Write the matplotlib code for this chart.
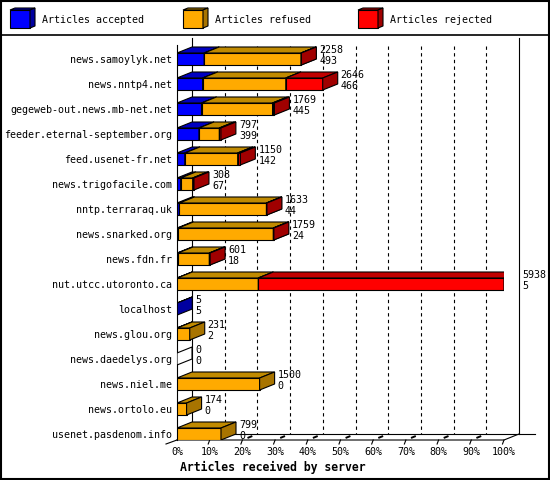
import matplotlib
matplotlib.use('Agg')
import matplotlib.pyplot as plt
from matplotlib.patches import Polygon, Rectangle
import numpy as np

# data (refused / rejected)
servers = ['news.samoylyk.net', 'news.nntp4.net', 'gegeweb-out.news.mb-net.net',
           'feeder.eternal-september.org', 'feed.usenet-fr.net', 'news.trigofacile.com',
           'nntp.terraraq.uk', 'news.snarked.org', 'news.fdn.fr', 'nut.utcc.utoronto.ca',
           'localhost', 'news.glou.org', 'news.daedelys.org', 'news.niel.me',
           'news.ortolo.eu', 'usenet.pasdenom.info']
accepted = [493, 466, 445, 399, 142, 67, 44, 24, 18, 5, 5, 2, 0, 0, 0, 0]
refused = [1760, 1510, 1290, 370, 960, 218, 1581, 1725, 569, 1471, 0, 229, 0, 1500, 174, 799]
rejected = [5, 670, 34, 28, 48, 23, 8, 10, 14, 4462, 0, 0, 0, 0, 0, 0]
series_names = ['Articles accepted', 'Articles refused', 'Articles rejected']
pct_labels = ['%d%%' % (k * 10) for k in range(11)]

front_colors = ['#0000ff', '#ffaa00', '#ff0000']
top_colors = ['#0000c0', '#c08a00', '#c00000']
side_colors = ['#0000a0', '#a87400', '#a00000']

mono = 'DejaVu Sans Mono'
fs = 7.2

series = np.array([accepted, refused, rejected], dtype=float)
totals = series.sum(axis=0)
xmax = totals.max()
n = len(servers)

fig = plt.figure(figsize=(5.5, 4.8), dpi=100)

# background: frame, separator and legend (pixel coordinates)
bg = fig.add_axes([0, 0, 1, 1], zorder=-1)
bg.set_xlim(0, 550)
bg.set_ylim(480, 0)
bg.axis('off')
bg.add_patch(Rectangle((1, 1), 548, 478, fill=False, lw=1.5, ec='black'))
bg.plot([0, 550], [35, 35], color='black', lw=1.2)
for i, x0 in enumerate([10, 183, 358]):
    bg.add_patch(Rectangle((x0, 10), 20, 18, fc=front_colors[i], ec='black', lw=0.8, zorder=3))
    bg.add_patch(Polygon([(x0, 10), (x0 + 20, 10), (x0 + 25, 8), (x0 + 5, 8)],
                         fc=top_colors[i], ec='black', lw=0.8, zorder=3))
    bg.add_patch(Polygon([(x0 + 20, 10), (x0 + 20, 28), (x0 + 25, 26), (x0 + 25, 8)],
                         fc=side_colors[i], ec='black', lw=0.8, zorder=3))
    bg.text(x0 + 32, 20, series_names[i], fontsize=fs, family=mono, va='center', ha='left')

# main plot area: 0..max at px 177..504, rows at 25 px spacing
ax = fig.add_axes([177 / 550, 40 / 480, 327 / 550, 400 / 480])
ax.set_facecolor('none')
for s in ax.spines.values():
    s.set_visible(False)
px = xmax / 327.0   # data units per pixel (x)
py = 1 / 25.0       # rows per pixel (y)
dx, dy = 15 * px, 6 * py
bh = 12 * py
y_floor = n - 1 + 0.24
ax.set_xlim(0, xmax)
ax.set_ylim(y_floor, -0.76)

lk = dict(color='black', lw=0.8, clip_on=False)
# back wall and grid
ax.plot([dx, dx], [-0.84, y_floor - dy], zorder=1, **lk)
ax.plot([xmax + dx, xmax + dx], [-0.84, y_floor - dy], zorder=1, **lk)
for k in range(1, 10):
    xg = xmax * k / 10
    ax.plot([xg + dx, xg + dx], [-0.5, y_floor - dy], ls=(0, (3, 3)), zorder=1, **lk)
    # floor marks
    ax.plot([xg + 0.4 * dx, xg + 0.6 * dx], [y_floor - 0.4 * dy, y_floor - 0.6 * dy],
            color='black', lw=1.4, zorder=1, clip_on=False)
# floor
ax.plot([dx, xmax + dx + 16 * px], [y_floor - dy, y_floor - dy], zorder=1, **lk)
ax.plot([0, xmax, xmax + dx], [y_floor, y_floor, y_floor - dy], zorder=1, **lk)
ax.plot([0, -11 * px], [y_floor, y_floor + 4 * py], zorder=1, **lk)
for k in range(1, 11):
    xg = xmax * k / 10
    ax.plot([xg, xg - 1.5 * px], [y_floor, y_floor + 4 * py], zorder=1, **lk)
# front y axis
ax.plot([0, 0], [-0.56, y_floor], zorder=1, **lk)

# 3D stacked bars
ypos = np.arange(n)
left = np.zeros(n)
for j in range(3):
    vals = series[j]
    mask = vals > 0
    ax.barh(ypos[mask], vals[mask], left=left[mask], height=bh, color=front_colors[j],
            edgecolor='black', lw=0.8, zorder=3 + j)
    for i in np.where(mask)[0]:
        x0, x1 = left[i], left[i] + vals[i]
        yt, yb = i - bh / 2, i + bh / 2
        ax.add_patch(Polygon([(x0, yt), (x1, yt), (x1 + dx, yt - dy), (x0 + dx, yt - dy)],
                             fc=top_colors[j], ec='black', lw=0.8, zorder=3 + j))
        ax.add_patch(Polygon([(x1, yt), (x1, yb), (x1 + dx, yb - dy), (x1 + dx, yt - dy)],
                             fc=side_colors[j], ec='black', lw=0.8, zorder=3 + j))
    left = left + vals

for i in range(n):
    if totals[i] == 0:
        yt, yb = i - bh / 2, i + bh / 2
        ax.add_patch(Polygon([(0, yt), (0, yb), (dx, yb - dy), (dx, yt - dy)],
                             fc='white', ec='black', lw=0.8, zorder=3))
    xl = totals[i] + dx + 3 * px
    ax.text(xl, i - 9 * py, '%d' % totals[i], fontsize=fs, family=mono,
            va='center', ha='left', zorder=8, clip_on=False)
    ax.text(xl, i + 2 * py, '%d' % accepted[i], fontsize=fs, family=mono,
            va='center', ha='left', zorder=8, clip_on=False)

ax.set_yticks(ypos)
ax.set_yticklabels(servers, family=mono, fontsize=fs)
ax.set_xticks(np.linspace(0, xmax, 11))
ax.set_xticklabels(pct_labels, family=mono, fontsize=fs)
ax.tick_params(axis='y', length=0, pad=3.6)
ax.tick_params(axis='x', length=0, pad=5)

fig.text(180 / 550, 1 - 467 / 480, 'Articles received by server', fontsize=8.3,
         family=mono, fontweight='bold', ha='left', va='center')

fig.savefig('out.png', dpi=100)
